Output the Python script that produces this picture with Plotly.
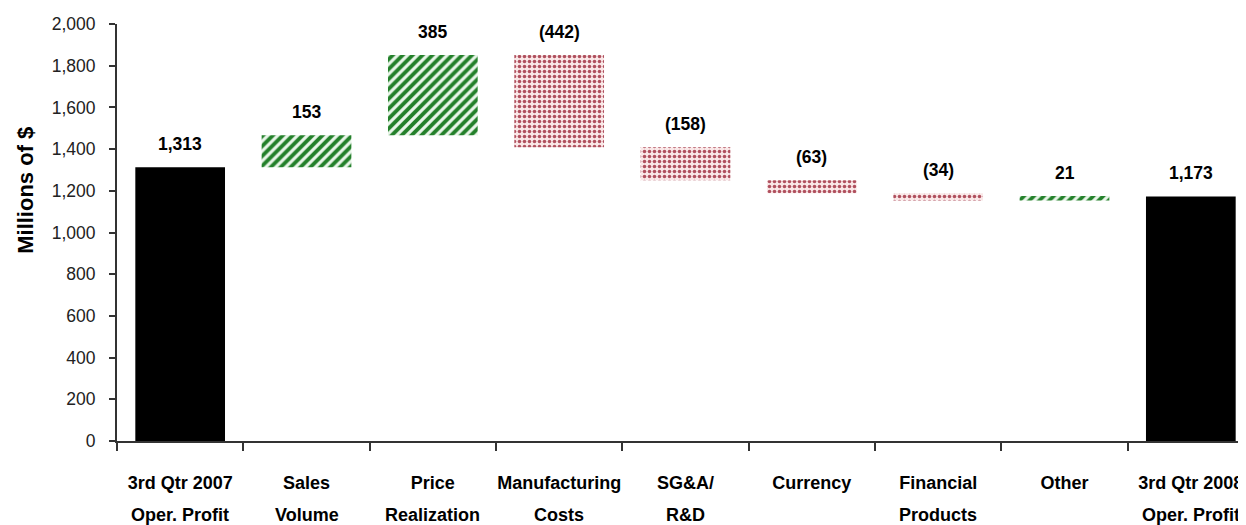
import numpy as np
import plotly.graph_objects as go

# ---- data ----
categories = ["3rd Qtr 2007 Oper. Profit", "Sales Volume", "Price Realization",
              "Manufacturing Costs", "SG&A/ R&D", "Currency", "Financial Products",
              "Other", "3rd Qtr 2008 Oper. Profit"]
label_line1 = ["3rd Qtr 2007", "Sales", "Price", "Manufacturing", "SG&A/",
               "Currency", "Financial", "Other", "3rd Qtr 2008"]
label_line2 = ["Oper. Profit", "Volume", "Realization", "Costs", "R&D",
               "", "Products", "", "Oper. Profit"]
start_value = 1313
deltas = [153, 385, -442, -158, -63, -34, 21]
end_value = 1173
y_ticks = [0, 200, 400, 600, 800, 1000, 1200, 1400, 1600, 1800, 2000]

# ---- derived ----
before = start_value + np.concatenate([[0], np.cumsum(deltas)[:-1]])
after = start_value + np.cumsum(deltas)
step_cats = categories[1:-1]
inc = [i for i, d in enumerate(deltas) if d > 0]
dec = [i for i, d in enumerate(deltas) if d < 0]

FONT = "Liberation Sans"
fig = go.Figure()

# totals
fig.add_trace(go.Bar(x=[categories[0], categories[-1]], y=[start_value, end_value],
                     marker=dict(color="black", line=dict(width=0)), width=0.71,
                     hoverinfo="x+y"))
# increases
fig.add_trace(go.Bar(x=[step_cats[i] for i in inc],
                     y=[abs(deltas[i]) for i in inc],
                     base=[min(before[i], after[i]) for i in inc],
                     width=0.71,
                     marker=dict(color="white", line=dict(width=0),
                                 pattern=dict(shape="/", fgcolor="#23802a", bgcolor="#eaf6ea",
                                              fgopacity=1, size=7, solidity=0.55))))
# decreases
fig.add_trace(go.Bar(x=[step_cats[i] for i in dec],
                     y=[abs(deltas[i]) for i in dec],
                     base=[min(before[i], after[i]) for i in dec],
                     width=0.71,
                     marker=dict(color="#f7e1e1", line=dict(width=0),
                                 pattern=dict(shape=".", fgcolor="#b0505e", bgcolor="#fae8e8",
                                              fgopacity=1, size=5, solidity=0.4))))

# value labels
def fmt_total(v):
    return f"{v:,}"

def fmt_delta(d):
    return f"({abs(d)})" if d < 0 else f"{d}"

annotations = []
tops = [start_value] + [max(b, a) for b, a in zip(before, after)] + [end_value]
texts = [fmt_total(start_value)] + [fmt_delta(d) for d in deltas] + [fmt_total(end_value)]
for c, t, txt in zip(categories, tops, texts):
    annotations.append(dict(x=c, y=t, xref="x", yref="y", text=txt, showarrow=False,
                            yanchor="bottom", yshift=11,
                            font=dict(family=FONT, size=17.5, color="black", weight="bold")))
# second line of category labels
for c, l2 in zip(categories, label_line2):
    if l2:
        annotations.append(dict(x=c, y=0, xref="x", yref="paper", text=l2, showarrow=False,
                                yanchor="top", yshift=-62,
                                font=dict(family=FONT, size=18, color="black", weight="bold")))
# y-axis title
annotations.append(dict(x=0, y=0.6, xref="paper", yref="paper", text="Millions of $",
                        textangle=-90, showarrow=False, xshift=-91,
                        xanchor="center", yanchor="middle",
                        font=dict(family=FONT, size=22, color="black", weight="bold")))

fig.update_layout(
    width=1246, height=525,
    margin=dict(l=109, r=0, t=16, b=92, autoexpand=False),
    paper_bgcolor="white", plot_bgcolor="white",
    barmode="overlay", showlegend=False,
    annotations=annotations,
    xaxis=dict(type="category", categoryorder="array", categoryarray=categories,
               tickvals=categories, ticktext=label_line1,
               range=[-0.5, 8.5], tickson="boundaries", tickangle=0, automargin=False,
               ticks="outside", ticklen=8, tickwidth=2, tickcolor="#333",
               showline=True, linecolor="#333", linewidth=2,
               showgrid=False, zeroline=False, ticklabelstandoff=24,
               tickfont=dict(family=FONT, size=18, color="black", weight="bold")),
    yaxis=dict(range=[0, 2000], tickvals=y_ticks, tickformat=",d", automargin=False,
               ticks="outside", ticklen=6, tickwidth=2, tickcolor="#333",
               showline=True, linecolor="#333", linewidth=2,
               showgrid=False, zeroline=False, ticklabelstandoff=10,
               tickfont=dict(family=FONT, size=17.5, color="#222")),
)

fig.write_html("out.html")
